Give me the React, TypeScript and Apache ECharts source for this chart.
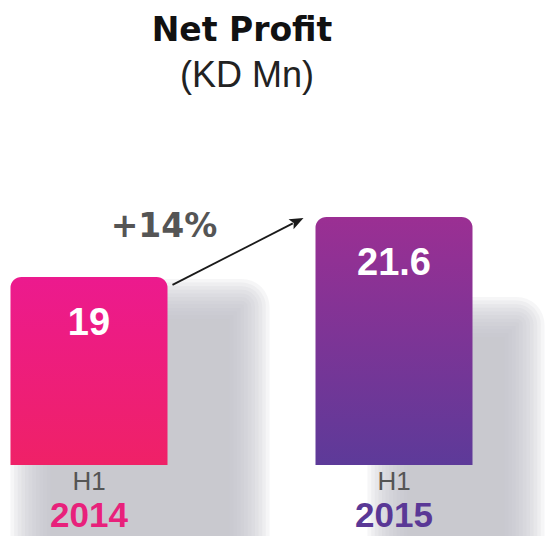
import React, { useEffect, useRef } from 'react';
import * as echarts from 'echarts';

// ---- data ----
const categories = ['H1 2014', 'H1 2015'];
const netProfit = [19, 21.6];
const chartTitle = 'Net Profit';
const chartUnit = '(KD Mn)';

// ---- styles ----
const BAR_W = 157;
const barTopColors = ['#ec1a8e', '#9b2f93'];
const barBottomColors = ['#ef2167', '#5d3a99'];
const yearColors = ['#e8217b', '#5a3896'];
const shadowLeftOffset = [20, 72];
const shadowRightOffset = [82, 52];
const shadowTopOffset = [22, 100];
const SHADOW_LAYERS = 12;
const SHADOW_SPREAD = 20;

export default function App() {
  const ref = useRef<HTMLDivElement>(null);

  useEffect(() => {
    if (!ref.current) return;
    const chart = echarts.init(ref.current, undefined, { renderer: 'svg' });

    const growth = Math.round(((netProfit[1] - netProfit[0]) / netProfit[0]) * 100);

    const option: any = {
      animation: false,
      backgroundColor: '#ffffff',
      grid: {
        left: -63.5,
        right: 2.5,
        top: 23,
        bottom: 71,
        containLabel: false,
        outerBoundsMode: 'none',
      },
      xAxis: {
        type: 'category',
        data: categories,
        boundaryGap: true,
        axisLine: { show: false },
        axisTick: { show: false },
        splitLine: { show: false },
        z: 10,
        axisLabel: {
          margin: 3,
          interval: 0,
          formatter: (val: string, idx: number) => {
            const parts = val.split(' ');
            return `{h|${parts[0]}}\n{y${idx}|${parts[1]}}`;
          },
          rich: {
            h: { fontSize: 26, color: '#555555', fontFamily: 'Liberation Sans, Arial, sans-serif', lineHeight: 26 },
            y0: { fontSize: 35, fontWeight: 'bold', color: yearColors[0], fontFamily: 'Liberation Sans, Arial, sans-serif', lineHeight: 41 },
            y1: { fontSize: 35, fontWeight: 'bold', color: yearColors[1], fontFamily: 'Liberation Sans, Arial, sans-serif', lineHeight: 41 },
          },
        },
      },
      yAxis: { type: 'value', min: 10.85, max: 30, show: false, splitLine: { show: false } },
      graphic: [
        {
          type: 'text',
          x: 242,
          y: 29,
          style: {
            text: chartTitle,
            fill: '#111111',
            font: 'bold 33px "DejaVu Sans", Arial, sans-serif',
            textAlign: 'center',
            textVerticalAlign: 'middle',
          },
        },
        {
          type: 'text',
          x: 247,
          y: 74.5,
          style: {
            text: chartUnit,
            fill: '#222222',
            font: '36px "Liberation Sans", Arial, sans-serif',
            textAlign: 'center',
            textVerticalAlign: 'middle',
          },
        },
      ],
      series: [
        {
          type: 'custom',
          z: 1,
          silent: true,
          data: netProfit.map((v, i) => [i, v]),
          renderItem: (params: any, api: any) => {
            const i = params.dataIndex;
            const p = api.coord([api.value(0), api.value(1)]);
            const left = p[0] - BAR_W / 2 + shadowLeftOffset[i];
            const right = p[0] + BAR_W / 2 + shadowRightOffset[i];
            const top = p[1] + shadowTopOffset[i];
            const bottom = 720;
            const children: any[] = [];
            for (let k = 0; k < SHADOW_LAYERS; k++) {
              const o = SHADOW_SPREAD - (2 * SHADOW_SPREAD * k) / (SHADOW_LAYERS - 1);
              children.push({
                type: 'rect',
                shape: {
                  x: left - o,
                  y: top - o,
                  width: right - left + 2 * o,
                  height: bottom - top + o,
                  r: Math.max(0, o + 8),
                },
                style: { fill: 'rgba(194,197,201,0.15)' },
              });
            }
            return { type: 'group', children };
          },
        },
        {
          type: 'bar',
          z: 2,
          barWidth: BAR_W,
          data: netProfit.map((v, i) => ({
            value: v,
            itemStyle: {
              color: new echarts.graphic.LinearGradient(0, 0, 0, 1, [
                { offset: 0, color: barTopColors[i] },
                { offset: 1, color: barBottomColors[i] },
              ]),
              borderRadius: [11, 11, 0, 0],
            },
          })),
          label: {
            show: true,
            position: ['50%', 45.5],
            align: 'center',
            verticalAlign: 'middle',
            color: '#ffffff',
            fontSize: 38,
            fontWeight: 'bold',
            fontFamily: 'Liberation Sans, Arial, sans-serif',
            formatter: '{c}',
          },
        },
        {
          type: 'custom',
          z: 3,
          silent: true,
          data: [[0, netProfit[0], 1, netProfit[1]]],
          renderItem: (params: any, api: any) => {
            const p0 = api.coord([api.value(0), api.value(1)]);
            const p1 = api.coord([api.value(2), api.value(3)]);
            const sx = p0[0] + BAR_W / 2 + 5;
            const sy = p0[1] + 8;
            const ex = p1[0] - BAR_W / 2 - 12;
            const ey = p1[1] + 1;
            const dx = ex - sx;
            const dy = ey - sy;
            const len = Math.sqrt(dx * dx + dy * dy);
            const ux = dx / len;
            const uy = dy / len;
            const hl = 14;
            const hw = 5.5;
            const bx = ex - ux * hl;
            const by = ey - uy * hl;
            return {
              type: 'group',
              children: [
                {
                  type: 'line',
                  shape: { x1: sx, y1: sy, x2: bx + ux * 2, y2: by + uy * 2 },
                  style: { stroke: '#1a1a1a', lineWidth: 1.8 },
                },
                {
                  type: 'polygon',
                  shape: {
                    points: [
                      [ex, ey],
                      [bx - uy * hw, by + ux * hw],
                      [bx + ux * 3, by + uy * 3],
                      [bx + uy * hw, by - ux * hw],
                    ],
                  },
                  style: { fill: '#1a1a1a' },
                },
                {
                  type: 'text',
                  x: p0[0] + 75,
                  y: p0[1] - 51,
                  style: {
                    text: `+${growth}%`,
                    fill: '#555555',
                    fontSize: 33,
                    fontWeight: 'bold',
                    fontFamily: 'DejaVu Sans, Arial, sans-serif',
                    align: 'center',
                    verticalAlign: 'middle',
                  },
                },
              ],
            };
          },
        },
      ],
    };

    chart.setOption(option);
    return () => chart.dispose();
  }, []);

  return (
    <div
      ref={ref}
      style={{ position: 'fixed', left: 0, top: 0, width: 549, height: 536 }}
    />
  );
}
